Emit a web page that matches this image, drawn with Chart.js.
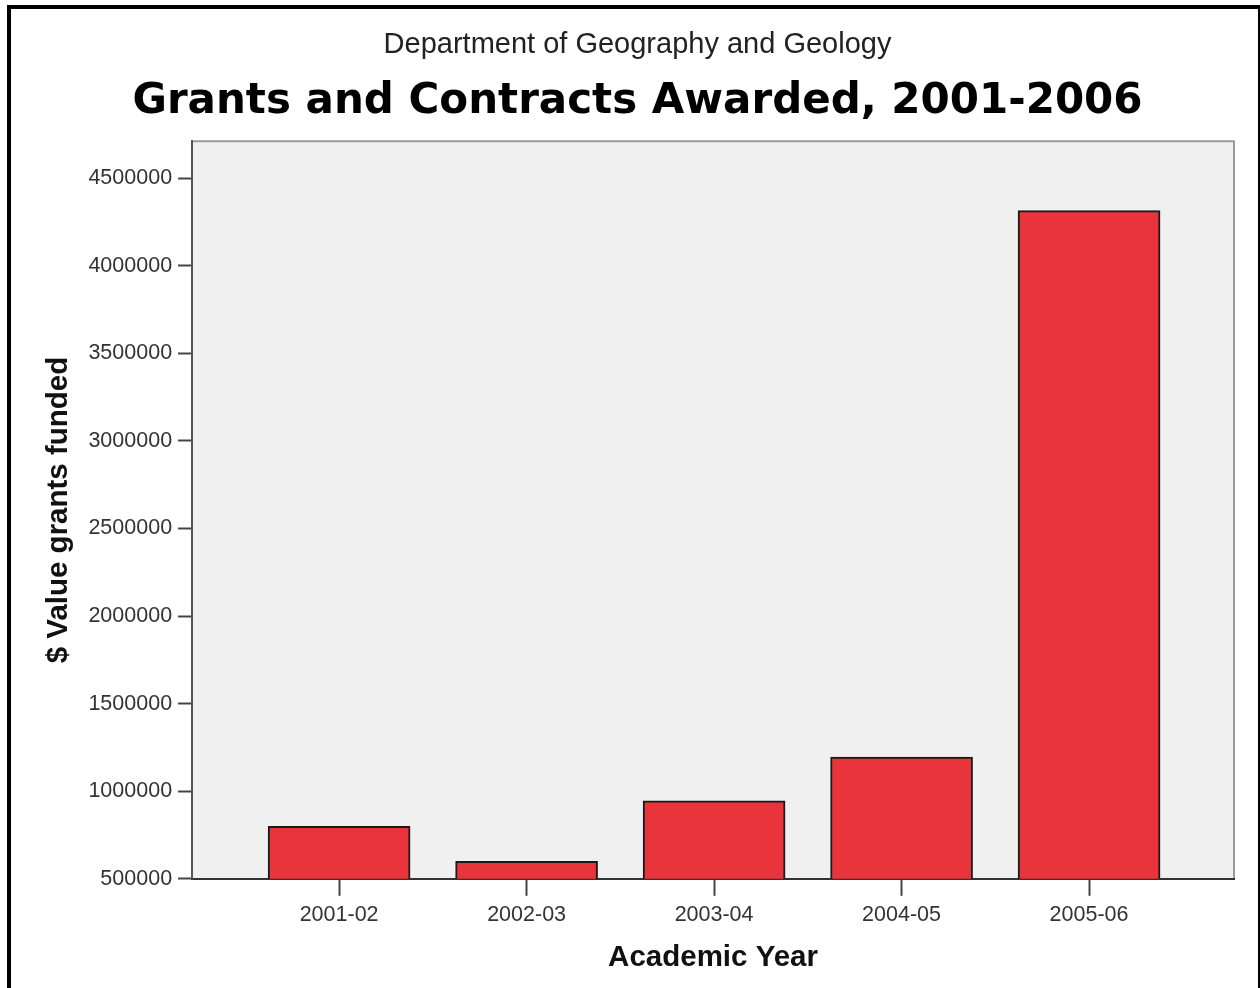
<!DOCTYPE html>
<html lang="en">
<head>
  <meta charset="UTF-8" />
  <title>Grants and Contracts Awarded, 2001-2006</title>
  <script src="https://cdn.jsdelivr.net/npm/chart.js"></script>
  <style>
    html, body { margin: 0; padding: 0; background: #fff; }
    #wrap { position: relative; width: 1260px; height: 988px; overflow: hidden; }
    #frame { position: absolute; left: 7px; top: 5px; width: 1247px; height: 1000px;
             border-left: 4px solid #000; border-top: 4px solid #000; border-right: 2px solid #000;
             pointer-events: none; }
  </style>
</head>
<body>
<div id="wrap">
  <canvas id="grantChart" width="1260" height="988"></canvas>
  <div id="frame"></div>
</div>

<script>
const categories = ["2001-02", "2002-03", "2003-04", "2004-05", "2005-06"];
const grantValues = [800000, 600000, 945000, 1195000, 4315000];
const yTicks = [500000, 1000000, 1500000, 2000000, 2500000, 3000000, 3500000, 4000000, 4500000];

// grey plot panel with light top/right edges
const panelBg = {
  id: "panelBg",
  beforeDraw(chart) {
    const { ctx, chartArea: a } = chart;
    ctx.save();
    ctx.fillStyle = "#f0f0f0";
    ctx.fillRect(a.left, a.top, a.right - a.left, a.bottom - a.top);
    ctx.strokeStyle = "#9a9a9a";
    ctx.lineWidth = 2;
    ctx.beginPath();
    ctx.moveTo(a.left, a.top);
    ctx.lineTo(a.right, a.top);
    ctx.lineTo(a.right, a.bottom);
    ctx.stroke();
    ctx.restore();
  }
};

const ctx = document.getElementById("grantChart").getContext("2d");
new Chart(ctx, {
  type: "bar",
  data: {
    datasets: [{
      label: "$ Value grants funded",
      data: grantValues.map((v, i) => ({ x: i, y: v })),
      backgroundColor: "#e8343a",
      borderColor: "#1a1a1a",
      borderWidth: 2,
      borderSkipped: false,
      barThickness: 142
    }]
  },
  options: {
    responsive: false,
    animation: false,
    layout: { padding: { left: 41, right: 26, top: 28, bottom: 12 } },
    plugins: {
      legend: { display: false },
      tooltip: { enabled: false },
      title: {
        display: true,
        text: "Department of Geography and Geology",
        color: "#222",
        font: { family: "Liberation Sans", size: 29, weight: "normal" },
        padding: { top: 0, bottom: 14 }
      },
      subtitle: {
        display: true,
        text: "Grants and Contracts Awarded, 2001-2006",
        color: "#000",
        font: { family: "DejaVu Sans", size: 42, weight: "bold" },
        padding: { top: 0, bottom: 14 }
      }
    },
    scales: {
      x: {
        type: "linear",
        offset: false,
        min: -0.784,
        max: 4.773,
        afterBuildTicks: scale => { scale.ticks = categories.map((c, i) => ({ value: i })); },
        grid: { display: true, drawOnChartArea: false, drawTicks: true, tickLength: 17, tickColor: "#444", tickWidth: 2, offset: false },
        border: { color: "#333", width: 2 },
        ticks: {
          callback: v => categories[v],
          color: "#333",
          padding: 6,
          font: { family: "Liberation Sans", size: 21.5 }
        },
        title: {
          display: true,
          text: "Academic Year",
          color: "#111",
          font: { family: "Liberation Sans", size: 29.5, weight: "bold" },
          padding: { top: 7, bottom: 0 }
        }
      },
      y: {
        min: 500000,
        max: 4711000,
        afterBuildTicks: scale => { scale.ticks = yTicks.map(v => ({ value: v })); },
        grid: { display: true, drawOnChartArea: false, drawTicks: true, tickLength: 14, tickColor: "#444", tickWidth: 2 },
        border: { color: "#555", width: 2 },
        ticks: {
          callback: v => String(v),
          color: "#333",
          padding: 6,
          font: { family: "Liberation Sans", size: 21.5 }
        },
        title: {
          display: true,
          text: "$ Value grants funded",
          color: "#111",
          font: { family: "Liberation Sans", size: 29.5, weight: "bold" },
          padding: { top: 0, bottom: 6 }
        }
      }
    }
  },
  plugins: [panelBg]
});
</script>
</body>
</html>
